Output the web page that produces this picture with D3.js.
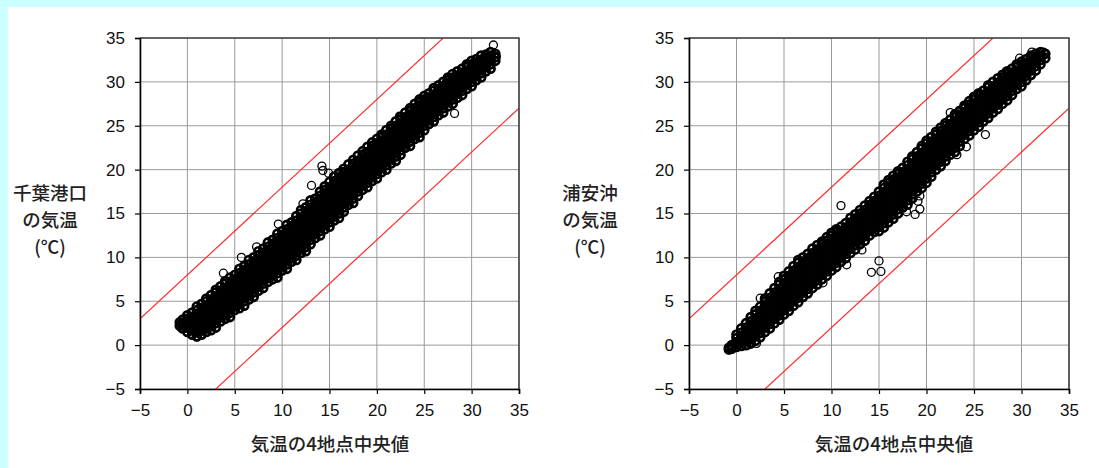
<!DOCTYPE html>
<html>
<head>
<meta charset="utf-8">
<script src="https://cdn.jsdelivr.net/npm/d3@7"></script>
<style>
  body { margin: 0; background: #ccffff; }
  svg { display: block; }
  .tick text { font-family: "Liberation Sans", Arial, sans-serif; font-size: 17px; fill: #111; }
  .ttl { font-family: "Noto Sans CJK JP", sans-serif; font-size: 18.5px; font-weight: 500; fill: #222; }
</style>
</head>
<body>
<svg id="chart" width="1099" height="468"></svg>
<script>
// axis ticks shared by both panels (°C)
const ticks = [-5, 0, 5, 10, 15, 20, 25, 30, 35];
// red guide lines: y = x + offset
const bandOffsets = [8, -8];

const xTitle = '気温の4地点中央値';
const chibaTitle = ['千葉港口', 'の気温', '(℃)'];
const urayasuTitle = ['浦安沖', 'の気温', '(℃)'];

// point cloud, one row per median value: [x, y, y, ...]
const chibaCols = [
  [-0.8, 2.2, 2.6],
  [-0.5, 1.9, 2.4, 2.9],
  [0, 1.5, 2.0, 2.5, 3.0, 3.4],
  [0.5, 1.2, 1.7, 2.2, 2.7, 3.2, 3.7],
  [1, 1.0, 1.5, 2.0, 2.5, 3.0, 3.5, 4.0, 4.4],
  [1.5, 1.2, 1.7, 2.2, 2.7, 3.2, 3.7, 4.2, 4.7],
  [2, 1.5, 2.0, 2.5, 3.0, 3.5, 4.0, 4.5, 5.0, 5.3],
  [2.5, 1.7, 2.2, 2.7, 3.2, 3.7, 4.2, 4.7, 5.2, 5.7],
  [3, 2.0, 2.5, 3.0, 3.5, 4.0, 4.5, 5.0, 5.5, 6.0, 6.3],
  [3.5, 2.7, 3.2, 3.7, 4.2, 4.7, 5.2, 5.7, 6.2, 6.7],
  [4, 3.0, 3.5, 4.0, 4.5, 5.0, 5.5, 6.0, 6.5, 7.0, 7.3],
  [4.5, 3.2, 3.7, 4.2, 4.7, 5.2, 5.7, 6.2, 6.7, 7.2, 7.7],
  [5, 4.0, 4.5, 5.0, 5.5, 6.0, 6.5, 7.0, 7.5, 8.0],
  [5.5, 4.2, 4.7, 5.2, 5.7, 6.2, 6.7, 7.2, 7.7, 8.2, 8.7],
  [6, 4.5, 5.0, 5.5, 6.0, 6.5, 7.0, 7.5, 8.0, 8.5, 9.0],
  [6.5, 5.2, 5.7, 6.2, 6.7, 7.2, 7.7, 8.2, 8.7, 9.2, 9.7],
  [7, 5.5, 6.0, 6.5, 7.0, 7.5, 8.0, 8.5, 9.0, 9.5, 10.0],
  [7.5, 6.2, 6.7, 7.2, 7.7, 8.2, 8.7, 9.2, 9.7, 10.2, 10.7],
  [8, 6.5, 7.0, 7.5, 8.0, 8.5, 9.0, 9.5, 10.0, 10.5, 11.0],
  [8.5, 7.2, 7.7, 8.2, 8.7, 9.2, 9.7, 10.2, 10.7, 11.2, 11.7],
  [9, 7.5, 8.0, 8.5, 9.0, 9.5, 10.0, 10.5, 11.0, 11.5, 12.0],
  [9.5, 7.7, 8.2, 8.7, 9.2, 9.7, 10.2, 10.7, 11.2, 11.7, 12.2, 12.7],
  [10, 8.5, 9.0, 9.5, 10.0, 10.5, 11.0, 11.5, 12.0, 12.5, 13.0],
  [10.5, 8.7, 9.2, 9.7, 10.2, 10.7, 11.2, 11.7, 12.2, 12.7, 13.2, 13.7],
  [11, 9.5, 10.0, 10.5, 11.0, 11.5, 12.0, 12.5, 13.0, 13.5, 14.0],
  [11.5, 9.7, 10.2, 10.7, 11.2, 11.7, 12.2, 12.7, 13.2, 13.7, 14.2, 14.7],
  [12, 10.5, 11.0, 11.5, 12.0, 12.5, 13.0, 13.5, 14.0, 14.5, 15.0, 15.4],
  [12.5, 10.7, 11.2, 11.7, 12.2, 12.7, 13.2, 13.7, 14.2, 14.7, 15.2, 15.7],
  [13, 11.5, 12.0, 12.5, 13.0, 13.5, 14.0, 14.5, 15.0, 15.5, 16.0, 16.5],
  [13.5, 12.2, 12.7, 13.2, 13.7, 14.2, 14.7, 15.2, 15.7, 16.2, 16.7],
  [14, 12.5, 13.0, 13.5, 14.0, 14.5, 15.0, 15.5, 16.0, 16.5, 17.0, 17.5],
  [14.5, 13.2, 13.7, 14.2, 14.7, 15.2, 15.7, 16.2, 16.7, 17.2, 17.7, 18.1],
  [15, 13.5, 14.0, 14.5, 15.0, 15.5, 16.0, 16.5, 17.0, 17.5, 18.0, 18.6],
  [15.5, 14.2, 14.7, 15.2, 15.7, 16.2, 16.7, 17.2, 17.7, 18.2, 18.7, 19.2],
  [16, 14.5, 15.0, 15.5, 16.0, 16.5, 17.0, 17.5, 18.0, 18.5, 19.0, 19.6],
  [16.5, 15.2, 15.7, 16.2, 16.7, 17.2, 17.7, 18.2, 18.7, 19.2, 19.7, 20.1],
  [17, 16.0, 16.5, 17.0, 17.5, 18.0, 18.5, 19.0, 19.5, 20.0, 20.6],
  [17.5, 16.2, 16.7, 17.2, 17.7, 18.2, 18.7, 19.2, 19.7, 20.2, 20.7, 21.1],
  [18, 17.0, 17.5, 18.0, 18.5, 19.0, 19.5, 20.0, 20.5, 21.0, 21.6],
  [18.5, 17.7, 18.2, 18.7, 19.2, 19.7, 20.2, 20.7, 21.2, 21.7, 22.1],
  [19, 18.0, 18.5, 19.0, 19.5, 20.0, 20.5, 21.0, 21.5, 22.0, 22.6],
  [19.5, 18.7, 19.2, 19.7, 20.2, 20.7, 21.2, 21.7, 22.2, 22.7, 23.1],
  [20, 19.0, 19.5, 20.0, 20.5, 21.0, 21.5, 22.0, 22.5, 23.0, 23.5],
  [20.5, 19.7, 20.2, 20.7, 21.2, 21.7, 22.2, 22.7, 23.2, 23.7, 24.0],
  [21, 20.0, 20.5, 21.0, 21.5, 22.0, 22.5, 23.0, 23.5, 24.0, 24.5],
  [21.5, 20.7, 21.2, 21.7, 22.2, 22.7, 23.2, 23.7, 24.2, 24.7, 25.0],
  [22, 21.0, 21.5, 22.0, 22.5, 23.0, 23.5, 24.0, 24.5, 25.0, 25.5],
  [22.5, 21.7, 22.2, 22.7, 23.2, 23.7, 24.2, 24.7, 25.2, 25.7, 26.0],
  [23, 22.5, 23.0, 23.5, 24.0, 24.5, 25.0, 25.5, 26.0, 26.5],
  [23.5, 22.7, 23.2, 23.7, 24.2, 24.7, 25.2, 25.7, 26.2, 26.7, 27.0],
  [24, 23.5, 24.0, 24.5, 25.0, 25.5, 26.0, 26.5, 27.0, 27.5],
  [24.5, 23.7, 24.2, 24.7, 25.2, 25.7, 26.2, 26.7, 27.2, 27.7, 28.0],
  [25, 24.5, 25.0, 25.5, 26.0, 26.5, 27.0, 27.5, 28.0, 28.4],
  [25.5, 25.2, 25.7, 26.2, 26.7, 27.2, 27.7, 28.2, 28.7],
  [26, 25.5, 26.0, 26.5, 27.0, 27.5, 28.0, 28.5, 29.0, 29.3],
  [26.5, 26.2, 26.7, 27.2, 27.7, 28.2, 28.7, 29.2, 29.6],
  [27, 26.5, 27.0, 27.5, 28.0, 28.5, 29.0, 29.5, 30.0],
  [27.5, 27.2, 27.7, 28.2, 28.7, 29.2, 29.7, 30.2, 30.5],
  [28, 27.5, 28.0, 28.5, 29.0, 29.5, 30.0, 30.5, 30.9],
  [28.5, 28.2, 28.7, 29.2, 29.7, 30.2, 30.7, 31.2],
  [29, 28.5, 29.0, 29.5, 30.0, 30.5, 31.0, 31.5],
  [29.5, 29.2, 29.7, 30.2, 30.7, 31.2, 31.7, 32.0],
  [30, 29.5, 30.0, 30.5, 31.0, 31.5, 32.0, 32.4],
  [30.5, 30.2, 30.7, 31.2, 31.7, 32.2, 32.6],
  [31, 30.5, 31.0, 31.5, 32.0, 32.5, 33.0],
  [31.5, 31.2, 31.7, 32.2, 32.7, 33.1],
  [32, 31.5, 32.0, 32.5, 33.0, 33.4],
  [32.5, 32.4, 32.8, 33.2]
];
const chibaOutliers = [
  [13.1, 18.2], [14.2, 20.4], [14.3, 19.9], [14.9, 19.6], [16.3, 19.8],
  [20.5, 23.7], [22.1, 24.8], [22.4, 26.1], [28.2, 26.4], [27.3, 29.9],
  [28.1, 30.4], [32.3, 34.2], [32.6, 32.9], [9.6, 13.8], [5.7, 10.0],
  [7.3, 11.2], [3.8, 8.2], [12.2, 16.1], [1.0, 0.95], [-0.45, 2.2]
];

const urayasuCols = [
  [-0.8, -0.5, -0.3],
  [-0.5, -0.4, 0.0],
  [0, -0.2, 0.3, 0.8, 1.2],
  [0.5, -0.1, 0.4, 0.9, 1.4, 1.9],
  [1, 0.0, 0.5, 1.0, 1.5, 2.0, 2.5],
  [1.5, 0.2, 0.7, 1.2, 1.7, 2.2, 2.7, 3.2],
  [2, 0.5, 1.0, 1.5, 2.0, 2.5, 3.0, 3.5, 3.9],
  [2.5, 0.9, 1.4, 1.9, 2.4, 2.9, 3.4, 3.9, 4.4],
  [3, 1.5, 2.0, 2.5, 3.0, 3.5, 4.0, 4.5, 5.0, 5.3],
  [3.5, 1.9, 2.4, 2.9, 3.4, 3.9, 4.4, 4.9, 5.4, 5.9],
  [4, 2.5, 3.0, 3.5, 4.0, 4.5, 5.0, 5.5, 6.0, 6.5],
  [4.5, 2.9, 3.4, 3.9, 4.4, 4.9, 5.4, 5.9, 6.4, 6.9, 7.2],
  [5, 3.5, 4.0, 4.5, 5.0, 5.5, 6.0, 6.5, 7.0, 7.5, 7.9],
  [5.5, 3.9, 4.4, 4.9, 5.4, 5.9, 6.4, 6.9, 7.4, 7.9, 8.4],
  [6, 4.5, 5.0, 5.5, 6.0, 6.5, 7.0, 7.5, 8.0, 8.5, 9.0],
  [6.5, 4.9, 5.4, 5.9, 6.4, 6.9, 7.4, 7.9, 8.4, 8.9, 9.4, 9.7],
  [7, 5.5, 6.0, 6.5, 7.0, 7.5, 8.0, 8.5, 9.0, 9.5, 10.0],
  [7.5, 5.9, 6.4, 6.9, 7.4, 7.9, 8.4, 8.9, 9.4, 9.9, 10.4],
  [8, 6.5, 7.0, 7.5, 8.0, 8.5, 9.0, 9.5, 10.0, 10.5, 11.0],
  [8.5, 6.9, 7.4, 7.9, 8.4, 8.9, 9.4, 9.9, 10.4, 10.9, 11.4],
  [9, 7.5, 8.0, 8.5, 9.0, 9.5, 10.0, 10.5, 11.0, 11.5, 11.8],
  [9.5, 7.9, 8.4, 8.9, 9.4, 9.9, 10.4, 10.9, 11.4, 11.9, 12.3],
  [10, 8.5, 9.0, 9.5, 10.0, 10.5, 11.0, 11.5, 12.0, 12.5, 12.8],
  [10.5, 8.9, 9.4, 9.9, 10.4, 10.9, 11.4, 11.9, 12.4, 12.9, 13.2],
  [11, 9.5, 10.0, 10.5, 11.0, 11.5, 12.0, 12.5, 13.0, 13.5],
  [11.5, 9.9, 10.4, 10.9, 11.4, 11.9, 12.4, 12.9, 13.4, 13.9],
  [12, 10.5, 11.0, 11.5, 12.0, 12.5, 13.0, 13.5, 14.0, 14.5],
  [12.5, 10.9, 11.4, 11.9, 12.4, 12.9, 13.4, 13.9, 14.4, 14.9],
  [13, 11.5, 12.0, 12.5, 13.0, 13.5, 14.0, 14.5, 15.0, 15.4],
  [13.5, 11.9, 12.4, 12.9, 13.4, 13.9, 14.4, 14.9, 15.4, 15.9],
  [14, 12.5, 13.0, 13.5, 14.0, 14.5, 15.0, 15.5, 16.0, 16.4],
  [14.5, 12.9, 13.4, 13.9, 14.4, 14.9, 15.4, 15.9, 16.4, 16.9],
  [15, 13.0, 13.5, 14.0, 14.5, 15.0, 15.5, 16.0, 16.5, 17.0, 17.5],
  [15.5, 13.4, 13.9, 14.4, 14.9, 15.4, 15.9, 16.4, 16.9, 17.4, 17.9, 18.3],
  [16, 14.0, 14.5, 15.0, 15.5, 16.0, 16.5, 17.0, 17.5, 18.0, 18.5, 18.8],
  [16.5, 14.4, 14.9, 15.4, 15.9, 16.4, 16.9, 17.4, 17.9, 18.4, 18.9, 19.3],
  [17, 15.0, 15.5, 16.0, 16.5, 17.0, 17.5, 18.0, 18.5, 19.0, 19.5, 19.8],
  [17.5, 15.7, 16.2, 16.7, 17.2, 17.7, 18.2, 18.7, 19.2, 19.7, 20.2],
  [18, 16.0, 16.5, 17.0, 17.5, 18.0, 18.5, 19.0, 19.5, 20.0, 20.5, 20.9],
  [18.5, 16.7, 17.2, 17.7, 18.2, 18.7, 19.2, 19.7, 20.2, 20.7, 21.2, 21.5],
  [19, 17.5, 18.0, 18.5, 19.0, 19.5, 20.0, 20.5, 21.0, 21.5, 22.0],
  [19.5, 17.9, 18.4, 18.9, 19.4, 19.9, 20.4, 20.9, 21.4, 21.9, 22.4, 22.7],
  [20, 18.5, 19.0, 19.5, 20.0, 20.5, 21.0, 21.5, 22.0, 22.5, 23.0, 23.3],
  [20.5, 19.2, 19.7, 20.2, 20.7, 21.2, 21.7, 22.2, 22.7, 23.2, 23.7],
  [21, 20.0, 20.5, 21.0, 21.5, 22.0, 22.5, 23.0, 23.5, 24.0, 24.3],
  [21.5, 20.4, 20.9, 21.4, 21.9, 22.4, 22.9, 23.4, 23.9, 24.4, 24.8],
  [22, 21.0, 21.5, 22.0, 22.5, 23.0, 23.5, 24.0, 24.5, 25.0, 25.3],
  [22.5, 21.7, 22.2, 22.7, 23.2, 23.7, 24.2, 24.7, 25.2, 25.7],
  [23, 22.0, 22.5, 23.0, 23.5, 24.0, 24.5, 25.0, 25.5, 26.0, 26.3],
  [23.5, 22.7, 23.2, 23.7, 24.2, 24.7, 25.2, 25.7, 26.2, 26.7],
  [24, 23.5, 24.0, 24.5, 25.0, 25.5, 26.0, 26.5, 27.0, 27.3],
  [24.5, 23.9, 24.4, 24.9, 25.4, 25.9, 26.4, 26.9, 27.4, 27.8],
  [25, 24.5, 25.0, 25.5, 26.0, 26.5, 27.0, 27.5, 28.0, 28.3],
  [25.5, 24.9, 25.4, 25.9, 26.4, 26.9, 27.4, 27.9, 28.4, 28.7],
  [26, 25.5, 26.0, 26.5, 27.0, 27.5, 28.0, 28.5, 29.0],
  [26.5, 25.9, 26.4, 26.9, 27.4, 27.9, 28.4, 28.9, 29.4, 29.6],
  [27, 26.5, 27.0, 27.5, 28.0, 28.5, 29.0, 29.5, 30.0],
  [27.5, 26.9, 27.4, 27.9, 28.4, 28.9, 29.4, 29.9, 30.4],
  [28, 27.5, 28.0, 28.5, 29.0, 29.5, 30.0, 30.5, 30.8],
  [28.5, 27.9, 28.4, 28.9, 29.4, 29.9, 30.4, 30.9, 31.2],
  [29, 28.5, 29.0, 29.5, 30.0, 30.5, 31.0, 31.5],
  [29.5, 29.2, 29.7, 30.2, 30.7, 31.2, 31.7, 32.0],
  [30, 29.5, 30.0, 30.5, 31.0, 31.5, 32.0, 32.3],
  [30.5, 30.2, 30.7, 31.2, 31.7, 32.2, 32.6],
  [31, 30.8, 31.3, 31.8, 32.3, 32.8, 33.0],
  [31.5, 31.3, 31.8, 32.3, 32.8, 33.2],
  [32, 32.0, 32.5, 33.0, 33.4],
  [32.5, 32.7, 33.2]
];
const urayasuOutliers = [
  [-0.75, -0.53], [-0.5, -0.23], [-0.26, 0.1], [2.5, 5.35], [4.4, 7.8],
  [11.0, 15.9], [9.1, 7.1], [11.6, 9.15], [13.2, 10.85], [14.2, 8.3],
  [15.2, 8.4], [15.0, 9.6], [22.5, 26.5], [23.7, 26.6], [24.4, 27.4],
  [26.2, 24.0], [23.2, 21.7], [24.2, 22.6], [19.3, 17.0], [19.1, 16.4],
  [19.3, 15.5], [17.9, 15.2], [18.8, 14.9], [29.8, 32.7], [31.1, 33.4],
  [32.3, 33.4], [32.5, 33.25], [28.4, 31.2], [1.25, 0.03], [2.1, 0.2]
];

const svg = d3.select('#chart');

// white page area inside the cyan frame
svg.append('rect')
  .attr('x', 8).attr('y', 7)
  .attr('width', 1091).attr('height', 461)
  .attr('fill', '#fff');

const plotTop = 38, plotBottom = 389;

function drawPanel(id, left, right, cols, outliers, yTitle, yTitleX, xTitleX) {
  const x = d3.scaleLinear().domain([-5, 35]).range([left, right]);
  const y = d3.scaleLinear().domain([-5, 35]).range([plotBottom, plotTop]);
  const g = svg.append('g');

  g.append('clipPath').attr('id', 'clip-' + id)
    .append('rect')
    .attr('x', left).attr('y', plotTop)
    .attr('width', right - left).attr('height', plotBottom - plotTop);

  // grid
  g.append('g').selectAll('line').data(ticks).enter().append('line')
    .attr('x1', d => x(d)).attr('x2', d => x(d))
    .attr('y1', plotTop).attr('y2', plotBottom)
    .attr('stroke', '#9a9a9a').attr('stroke-width', 1);
  g.append('g').selectAll('line').data(ticks).enter().append('line')
    .attr('x1', left).attr('x2', right)
    .attr('y1', d => y(d)).attr('y2', d => y(d))
    .attr('stroke', '#9a9a9a').attr('stroke-width', 1);

  // red guide lines
  const line = d3.line().x(d => x(d[0])).y(d => y(d[1]));
  g.append('g').attr('clip-path', `url(#clip-${id})`)
    .selectAll('path').data(bandOffsets).enter().append('path')
    .attr('d', k => line([[-5, -5 + k], [35, 35 + k]]))
    .attr('fill', 'none')
    .attr('stroke', '#ff2a2a')
    .attr('stroke-width', 1.2);

  // points: dense core first, then the scattered ones on top
  const core = cols.flatMap(([cx, ...ys]) => ys.map(v => [cx, v]));
  g.append('g').selectAll('circle').data(core).enter().append('circle')
    .attr('cx', d => x(d[0]))
    .attr('cy', d => y(d[1]))
    .attr('r', 4)
    .attr('fill', 'none')
    .attr('stroke', '#000')
    .attr('stroke-width', 2.7);
  g.append('g').selectAll('circle').data(outliers).enter().append('circle')
    .attr('cx', d => x(d[0]))
    .attr('cy', d => y(d[1]))
    .attr('r', 4)
    .attr('fill', 'none')
    .attr('stroke', '#000')
    .attr('stroke-width', 1.3);

  // top/right frame
  g.append('path')
    .attr('d', `M${left},${plotTop}H${right}V${plotBottom}`)
    .attr('fill', 'none')
    .attr('stroke', '#444')
    .attr('stroke-width', 1.6);

  // axes
  const yAxis = g.append('g')
    .attr('transform', `translate(${left},0)`)
    .call(d3.axisLeft(y).tickValues(ticks).tickSize(5).tickPadding(10));
  const xAxis = g.append('g')
    .attr('transform', `translate(0,${plotBottom})`)
    .call(d3.axisBottom(x).tickValues(ticks).tickSize(5).tickPadding(10));
  [xAxis, yAxis].forEach(a => {
    a.select('.domain').attr('stroke', '#000').attr('stroke-width', 1.6);
    a.selectAll('.tick line').attr('stroke', '#000').attr('stroke-width', 1.2);
    a.selectAll('.tick text').attr('font-family', null).attr('font-size', null);
  });
  g.selectAll('.tick text').attr('fill', null);

  // titles
  g.append('text').attr('class', 'ttl')
    .attr('x', xTitleX).attr('y', 451)
    .attr('text-anchor', 'middle')
    .text(xTitle);
  g.append('g').selectAll('text').data(yTitle).enter().append('text')
    .attr('class', 'ttl')
    .attr('x', yTitleX)
    .attr('y', (d, i) => 200 + i * 27)
    .attr('text-anchor', 'middle')
    .text(d => d);
}

drawPanel('chiba', 140, 519, chibaCols, chibaOutliers, chibaTitle, 50, 330);
drawPanel('urayasu', 689, 1069, urayasuCols, urayasuOutliers, urayasuTitle, 590, 894);
</script>
</body>
</html>
